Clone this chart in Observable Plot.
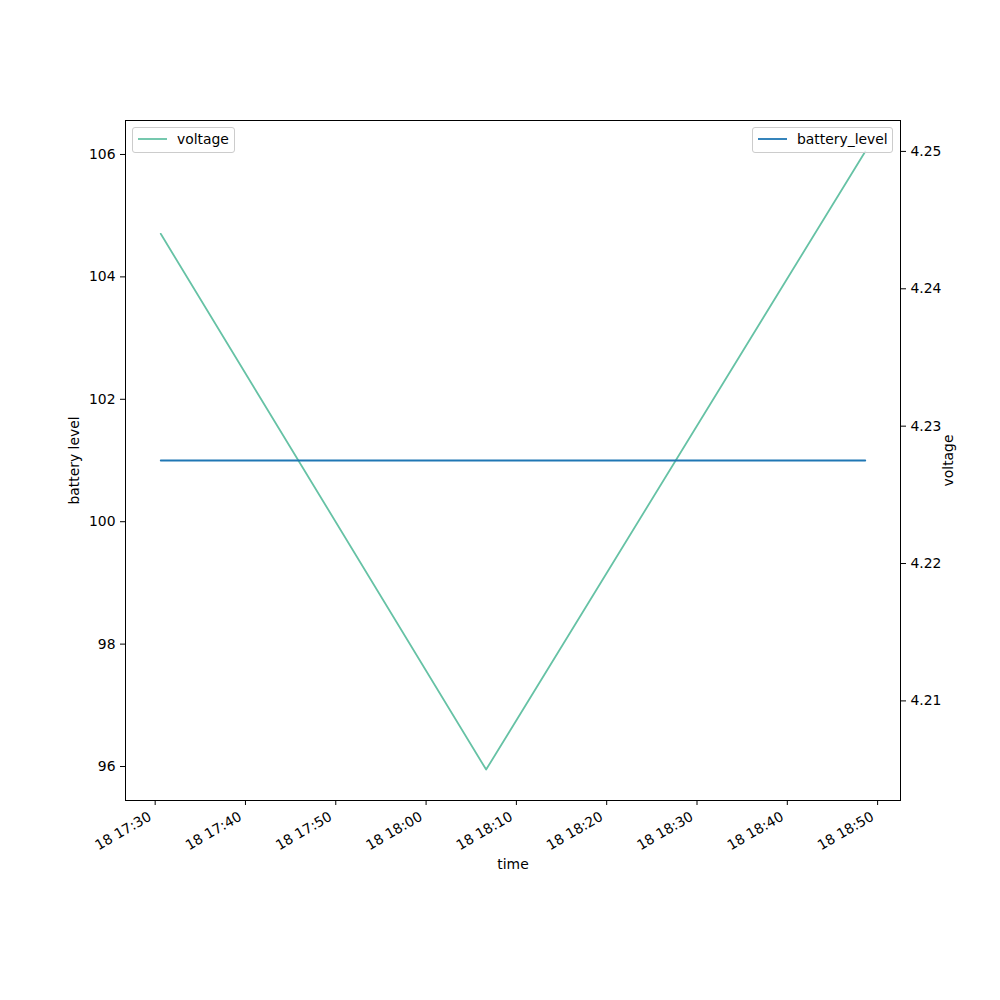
<!DOCTYPE html>
<html><head><meta charset="utf-8">
<script src="https://cdn.jsdelivr.net/npm/d3@7"></script>
<script src="https://cdn.jsdelivr.net/npm/@observablehq/plot@0.6"></script>
<style>
body{margin:0;background:#fff;}
#wrap{position:relative;width:1000px;height:1000px;font-family:"DejaVu Sans",sans-serif;}
.legend{position:absolute;background:rgba(255,255,255,0.8);border:1px solid #cccccc;border-radius:3px;box-sizing:border-box;height:26px;font-size:13.9px;color:#000;}
.legend svg{position:absolute;left:4px;top:0;}
.legend span{position:absolute;top:3px;white-space:nowrap;}
</style></head>
<body><div id="wrap"></div>
<script>
// data
const times = ["2023-06-18T17:30:37", "2023-06-18T18:06:39", "2023-06-18T18:48:38"];
const batteryLevel = [101, 101, 101];
const voltage = [4.244, 4.205, 4.250];
const xTickLabels = ["17:30","17:40","17:50","18:00","18:10","18:20","18:30","18:40","18:50"];
const leftTicks = [96, 98, 100, 102, 104, 106];
const rightTicks = [4.21, 4.22, 4.23, 4.24, 4.25];

const T = times.map(s => new Date(s));
const batteryRows = T.map((t, i) => ({time: t, level: batteryLevel[i]}));
const voltRows = T.map((t, i) => ({time: t, voltage: voltage[i]}));

// matplotlib-like limits (5% margins)
const tMin = d3.min(T), tMax = d3.max(T), tSpan = tMax - tMin;
const xDomain = [new Date(+tMin - 0.05 * tSpan), new Date(+tMax + 0.05 * tSpan)];
const bLo = 101 * 0.95, bHi = 101 * 1.05, bPad = (bHi - bLo) * 0.05;
const yDomain = [bLo - bPad, bHi + bPad];
const vLo = d3.min(voltage), vHi = d3.max(voltage), vPad = (vHi - vLo) * 0.05;
const v2b = d3.scaleLinear().domain([vLo - vPad, vHi + vPad]).range(yDomain);

const xTicks = xTickLabels.map(s => new Date("2023-06-18T" + s + ":00"));
const fmt = d3.timeFormat("%d %H:%M");

const chart = Plot.plot({
  width: 1000, height: 1000,
  marginLeft: 125, marginRight: 100, marginTop: 120, marginBottom: 200,
  style: {fontFamily: "DejaVu Sans", fontSize: "13.9px", color: "#000", background: "#fff"},
  x: {type: "time", domain: xDomain},
  y: {domain: yDomain},
  marks: [
    Plot.frame({stroke: "#000", strokeWidth: 1}),
    Plot.axisX({ticks: xTicks, tickSize: 5, text: null, stroke: "#000"}),
    Plot.axisX({ticks: xTicks, tickFormat: fmt, tickRotate: -30, tickSize: 0, tickPadding: 8, dx: -5, dy: 7,
      label: null}),
    Plot.axisX({ticks: [], tickSize: 0, label: "time", labelAnchor: "center", labelArrow: "none", labelOffset: 68}),
    Plot.axisY({ticks: leftTicks, tickSize: 5, tickPadding: 5, anchor: "left",
      label: "battery level", labelAnchor: "center", labelArrow: "none", labelOffset: 56}),
    Plot.axisY({ticks: rightTicks.map(v2b), tickFormat: d => d3.format(".2f")(v2b.invert(d)), tickSize: 5, tickPadding: 5, anchor: "right",
      label: "voltage", labelAnchor: "center", labelArrow: "none", labelOffset: 52}),
    Plot.line(voltRows, {x: "time", y: d => v2b(d.voltage), stroke: "#66c2a5", strokeWidth: 1.8}),
    Plot.line(batteryRows, {x: "time", y: "level", stroke: "#1f77b4", strokeWidth: 1.8})
  ]
});
const wrap = document.getElementById("wrap");
wrap.appendChild(chart);

function legend(left, width, color, text) {
  const d = document.createElement("div");
  d.className = "legend";
  d.style.left = left + "px"; d.style.top = "127px"; d.style.width = width + "px";
  d.innerHTML = `<svg width="32" height="24"><line x1="1" x2="30" y1="11" y2="11" stroke="${color}" stroke-width="1.8"/></svg><span style="left:44px">${text}</span>`;
  wrap.appendChild(d);
}
legend(132, 103, "#66c2a5", "voltage");
legend(752, 141, "#1f77b4", "battery_level");
</script>
</body></html>
